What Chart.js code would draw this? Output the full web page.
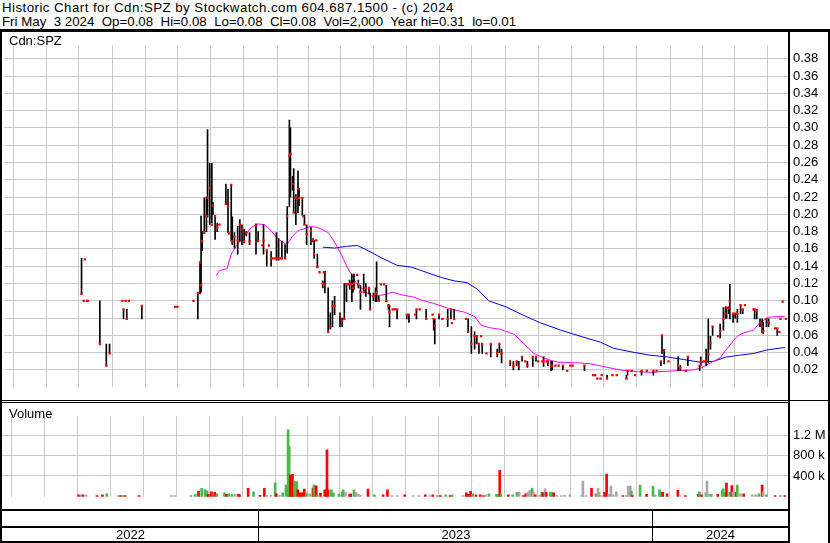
<!DOCTYPE html>
<html>
<head>
<meta charset="utf-8">
<script src="https://cdn.jsdelivr.net/npm/chart.js@4.4.1/dist/chart.umd.min.js"></script>
<style>
body { margin: 0; width: 830px; height: 543px; position: relative; overflow: hidden; background: #fff;
       font-family: "Liberation Sans", Arial, sans-serif; color: #000; }
canvas { position: absolute; left: 0; }
.k { position: absolute; background: #000; }
.lbl { position: absolute; font-size: 13px; line-height: 15px; white-space: pre; }
#hdr { position: absolute; left: 2px; top: 1px; font-size: 13.3px; line-height: 14.3px; white-space: pre; }
#hdr .l1 { letter-spacing: 0.45px; }
</style>
</head>
<body>
<div id="hdr"><span class="l1">Historic Chart for Cdn:SPZ by Stockwatch.com 604.687.1500 - (c) 2024</span>
Fri May  3 2024  Op=0.08  Hi=0.08  Lo=0.08  Cl=0.08  Vol=2,000  Year hi=0.31  lo=0.01</div>
<canvas id="price" width="830" height="367" style="top:33px"></canvas>
<canvas id="vol" width="830" height="107" style="top:403px"></canvas>
<div class="lbl" style="left:9px;top:33px">Cdn:SPZ</div>
<div class="lbl" style="left:9px;top:406px">Volume</div>
<!-- frame -->
<div class="k" style="left:0;top:29px;width:830px;height:3px"></div>
<div class="k" style="left:0;top:29px;width:2px;height:514px"></div>
<div class="k" style="left:828px;top:29px;width:2px;height:514px"></div>
<div class="k" style="left:788px;top:29px;width:2px;height:514px"></div>
<div class="k" style="left:0;top:400px;width:830px;height:1px"></div>
<div class="k" style="left:0;top:402px;width:790px;height:1px"></div>
<div class="k" style="left:0;top:509px;width:790px;height:2px"></div>
<div class="k" style="left:0;top:526px;width:790px;height:2px"></div>
<div class="k" style="left:0;top:541px;width:790px;height:2px"></div>
<div id="axis"></div>
<script>
// days are counted from 2022-01-01 (day 0)
var monthStarts = [151,181,212,243,273,304,334,365,396,424,455,485,516,546,577,608,638,669,699,730,761,790,821,851];
var yearStarts = [365, 730];
var yearLabels = ['2022', '2023', '2024'];
var priceTicks = [0.02,0.04,0.06,0.08,0.10,0.12,0.14,0.16,0.18,0.20,0.22,0.24,0.26,0.28,0.30,0.32,0.34,0.36,0.38];
var volTicks = [400, 800, 1200];   // thousands of shares

var pDay = [
  199,201,202,204,205,216,222,225,237,238, 240,241,243,255,286,288,303,307,309,310,
  311,313,315,316,318,320,321,323,325,327, 333,335,336,338,339,341,344,346,348,350,
  352,355,361,363,367,368,371,373,375,376, 378,380,382,384,385,388,390,392,393,395,
  396,398,400,401,404,405,406,408,412,414, 415,417,418,420,423,424,425,428,430,432,
  434,439,441,443,445,447,448,450,451,452, 455,456,458,461,463,466,467,470,472,473,
  475,477,480,482,484,485,488,490,492,501, 503,509,510,513,519,525,526,527,531,534,
  539,542,543,545,556,558,561,564,566,568, 570,571,575,579,585,587,589,597,600,603,
  605,608,611,613,618,621,623,627,628,631, 632,635,636,639,642,646,650,653,655,666,
  674,676,678,681,682,687,692,696,705,706, 710,713,719,724,730,733,737,738,740,744,
  753,755,760,762,773,774,777,779,781,783, 785,790,792,795,797,798,800,801,804,806,
  808,811,813,815,823,824,826,829,831,832, 835,837,843,845,847,848,850,853
];
var pHigh = [
  .149,.10,.148,.10,.10,.10,.05,.05,.10,.09, .10,.09,.10,.094,.093,.093,.10,.109,.145,.198,
  .18,.219,.22,.298,.259,.259,.214,.198,.19,.188, .235,.229,.178,.234,.197,.179,.186,.194,.188,.183,
  .18,.179,.189,.18,.164,.188,.159,.164,.157,.149, .149,.179,.172,.149,.169,.165,.209,.309,.30,.244,
  .253,.223,.25,.23,.219,.198,.199,.188,.185,.172, .17,.17,.154,.133,.123,.133,.134,.115,.086,.10,
  .105,.086,.08,.12,.12,.119,.124,.131,.124,.131, .13,.124,.118,.131,.12,.115,.109,.109,.115,.145,
  .105,.119,.119,.118,.096,.095,.09,.09,.09,.084, .084,.084,.09,.09,.09,.084,.079,.079,.084,.079,
  .09,.09,.074,.09,.079,.079,.07,.064,.06,.05, .059,.05,.039,.05,.044,.05,.044,.03,.03,.03,
  .03,.035,.03,.03,.035,.035,.03,.03,.035,.03, .03,.03,.03,.025,.025,.025,.019,.025,.025,.025,
  .014,.014,.01,.01,.014,.014,.014,.014,.014,.019, .019,.014,.019,.019,.019,.019,.03,.06,.043,.03,
  .035,.025,.019,.035,.025,.035,.03,.044,.079,.059, .07,.059,.073,.092,.093,.092,.093,.119,.085,.085,
  .09,.095,.09,.095,.09,.09,.09,.079,.079,.075, .079,.079,.068,.068,.064,.079,.099,.079
];
var pLow = [
  .108,.10,.148,.10,.10,.049,.025,.039,.10,.079, .10,.079,.10,.079,.093,.093,.10,.079,.108,.11,
  .158,.178,.18,.197,.188,.19,.2,.171,.18,.188, .212,.179,.178,.169,.165,.161,.154,.169,.165,.167,
  .175,.165,.154,.169,.164,.154,.14,.164,.14,.149, .149,.147,.147,.149,.149,.149,.155,.209,.22,.228,
  .202,.188,.202,.21,.199,.198,.188,.165,.165,.168, .149,.17,.139,.133,.115,.133,.109,.064,.067,.07,
  .084,.07,.07,.079,.099,.119,.113,.099,.11,.113, .13,.115,.09,.11,.105,.108,.09,.10,.099,.099,
  .099,.119,.119,.099,.09,.07,.09,.09,.079,.079, .075,.084,.079,.09,.079,.084,.066,.05,.079,.079,
  .07,.079,.074,.079,.079,.064,.039,.044,.05,.039, .059,.039,.039,.035,.035,.04,.028,.025,.02,.025,
  .02,.03,.03,.023,.024,.03,.03,.03,.024,.03, .025,.019,.02,.025,.025,.02,.019,.025,.025,.019,
  .014,.014,.01,.01,.014,.01,.014,.014,.01,.014, .019,.014,.014,.019,.014,.019,.025,.039,.027,.03,
  .019,.019,.019,.025,.019,.025,.03,.025,.028,.044, .06,.059,.057,.066,.08,.08,.085,.079,.075,.08,
  .075,.085,.085,.095,.09,.079,.079,.07,.063,.062, .07,.07,.068,.06,.064,.079,.099,.079
];
var pClose = [
  .108,.10,.148,.10,.10,.05,.025,.039,.10,.09, .10,.079,.10,.094,.093,.093,.10,.109,.144,.118,
  .169,.179,.198,.219,.23,.188,.21,.198,.185,.188, .212,.209,.178,.234,.169,.174,.17,.188,.183,.169,
  .178,.169,.187,.169,.164,.17,.158,.164,.149,.149, .149,.149,.149,.149,.149,.149,.198,.268,.27,.235,
  .202,.219,.229,.219,.219,.198,.188,.177,.181,.17, .154,.17,.139,.133,.12,.133,.119,.064,.07,.094,
  .094,.083,.077,.079,.119,.119,.12,.119,.115,.12, .13,.119,.11,.11,.115,.115,.09,.105,.108,.11,
  .10,.119,.119,.10,.094,.087,.09,.09,.09,.084, .084,.084,.09,.09,.079,.084,.079,.071,.084,.079,
  .079,.09,.074,.079,.079,.064,.05,.059,.059,.05, .059,.05,.039,.05,.039,.05,.039,.03,.025,.03,
  .025,.035,.03,.025,.035,.035,.03,.03,.03,.03, .03,.024,.025,.025,.025,.025,.019,.025,.025,.025,
  .014,.014,.01,.01,.014,.01,.014,.014,.01,.019, .019,.014,.019,.019,.019,.019,.03,.06,.043,.03,
  .025,.022,.019,.035,.025,.03,.03,.03,.038,.051, .07,.059,.065,.079,.085,.092,.092,.099,.085,.085,
  .085,.095,.09,.095,.09,.09,.088,.075,.07,.065, .079,.075,.068,.068,.064,.079,.099,.079
];

// moving averages (short = magenta, long = blue)
var maShortDay = [324,327,334,338,343,350,357,363,369,375,381,388,391,395,400,405,411,418,428,434,440,446,454,462,469,
  480,488,496,508,514,526,540,554,564,570,577,588,601,610,619,632,641,662,672,687,699,715,730,736,752,767,774,783,792,798,
  808,814,823,829,837,852];
var maShort = [.129,.135,.137,.154,.164,.175,.185,.189,.188,.181,.172,.166,.167,.175,.181,.183,.186,.185,.179,.168,.154,.138,.121,.111,.105,
  .107,.11,.107,.104,.101,.097,.091,.087,.082,.072,.069,.067,.061,.05,.039,.032,.029,.028,.027,.023,.02,.018,.017,.018,.019,.02,.022,.028,.034,.044,
  .059,.063,.066,.075,.081,.082];
var maLongDay = [423,434,445,455,465,477,492,505,519,533,545,557,567,577,593,608,624,644,662,681,693,709,727,743,758,773,786,798,810,823,835,852];
var maLong = [.162,.161,.163,.164,.158,.15,.141,.139,.133,.127,.123,.121,.113,.10,.093,.084,.075,.066,.059,.052,.045,.041,.037,.035,.032,.029,.03,.035,.037,.039,.043,.046];

// volume in thousands, direction u = up, d = down, n = unchanged
var vDay = [
  198,200,202,205,215,220,224,235,237,239, 241,254,284,287,302,306,309,312,315,317,
  318,321,324,326,333,335,337,340,343,346, 347,355,360,366,370,372,376,380,381,384,
  387,390,392,393,394,396,397,398,400,401, 403,405,407,409,412,415,416,418,419,422,
  426,428,429,432,434,439,442,443,445,449, 450,453,455,457,459,466,472,480,484,488,
  493,500,508,513,519,523,526,530,533,538, 542,544,554,557,559,561,563,566,570,573,
  575,578,585,586,588,589,596,600,604,606, 610,612,614,616,618,619,621,625,627,628,
  630,631,635,636,638,641,645,648,653,664, 665,668,673,677,679,680,682,685,687,689,
  691,693,696,702,705,707,709,710,711,718, 724,730,732,736,737,739,743,753,755,760,
  772,773,775,779,780,782,784,790,794,795, 797,798,801,803,804,807,808,811,814,822,
  825,828,831,832,835,843,848,852
];
var vVol = [
  30,30,30,20,15,30,50,15,15,15, 15,15,15,15,15,40,100,160,130,110,
  40,90,80,50,70,40,50,40,40,40, 30,160,90,20,160,20,20,265,50,20,
  70,220,1300,975,415,430,90,300,290,130, 70,70,145,70,50,165,220,205,15,60,
  130,910,130,130,70,40,90,130,80,40, 50,130,80,40,20,145,30,30,130,15,
  15,30,15,15,30,15,30,15,15,30, 15,30,15,70,40,100,50,30,30,15,
  30,50,40,40,510,50,30,30,80,80, 15,50,80,120,160,90,30,20,80,70,
  150,80,80,80,70,15,15,20,30,15, 300,15,160,50,160,80,15,80,435,40,
  200,30,90,15,15,200,200,100,15,220, 40,200,30,130,90,80,50,120,15,15,
  40,90,30,70,300,40,35,40,120,150, 80,260,80,210,90,80,220,50,50,30,
  30,50,220,90,30,15,15,15
];
var vDir = ('dndndduudu' + 'ddnnuuduuu' + 'ddduuduund' + 'dduddnnudn' + 'uuuuddduud' +
            'dddundudud' + 'ddduuuuund' + 'dunnnduddn' + 'ndnndndudu' + 'dunddduddd' +
            'nuuududuun' + 'ddnnundnud' + 'nduudnnnnn' + 'nndunnnddn' + 'nnndnnnudu' +
            'dunuudddnd' + 'dudunnuduu' + 'ududndundn' + 'nudnudud').split('');

var gridColor = '#c8c8c8';
var dirColor = { u: '#4cb848', d: '#ff0000', n: '#a8a8a8' };
var axisFont = { family: '"Liberation Sans", Arial, sans-serif', size: 13 };

function timeAxis() {
  return {
    type: 'linear', min: 127, max: 855, offset: false,
    grid: { color: gridColor, drawTicks: false },
    border: { display: false },
    ticks: { display: false },
    afterBuildTicks: function(s) { s.ticks = monthStarts.map(function(v) { return { value: v }; }); },
    afterFit: function(s) { s.height = 0; }
  };
}

function valueAxis(min, max, ticks, fmt) {
  return {
    position: 'right', min: min, max: max,
    grid: { color: gridColor, drawTicks: false },
    border: { display: false },
    ticks: { color: '#000', font: axisFont, padding: 5, autoSkip: false, callback: fmt },
    afterBuildTicks: function(s) { s.ticks = ticks.map(function(v) { return { value: v }; }); },
    afterFit: function(s) { s.width = 42; }
  };
}

var common = {
  responsive: false, animation: false, devicePixelRatio: 1,
  layout: { padding: { left: 2, right: 0, top: 0, bottom: 0 } },
  plugins: { legend: { display: false }, tooltip: { enabled: false } }
};

var priceChart = new Chart(document.getElementById('price'), {
  type: 'bar',
  data: {
    datasets: [
      {
        type: 'line', order: 0, showLine: false,
        data: pDay.map(function(d, i) { return { x: d, y: pClose[i] }; }),
        pointStyle: 'rect', pointRadius: 1.6, pointBackgroundColor: '#ff0000', pointBorderWidth: 0, borderWidth: 0
      },
      {
        type: 'bar', order: 1,
        data: pDay.map(function(d, i) { return { x: d, y: [pLow[i], pHigh[i]] }; }),
        backgroundColor: '#000', barThickness: 1
      },
      {
        type: 'line', order: 2,
        data: maShortDay.map(function(d, i) { return { x: d, y: maShort[i] }; }),
        borderColor: '#ff00ff', borderWidth: 1, pointRadius: 0, tension: 0
      },
      {
        type: 'line', order: 2,
        data: maLongDay.map(function(d, i) { return { x: d, y: maLong[i] }; }),
        borderColor: '#0000ff', borderWidth: 1, pointRadius: 0, tension: 0
      }
    ]
  },
  options: Object.assign({}, common, {
    scales: {
      x: timeAxis(),
      y: valueAxis(0, 0.395, priceTicks, function(v) { return v.toFixed(2); })
    }
  })
});

var volChart = new Chart(document.getElementById('vol'), {
  type: 'bar',
  data: {
    datasets: [{
      data: vDay.map(function(d, i) { return { x: d, y: vVol[i] }; }),
      backgroundColor: vDir.map(function(c) { return dirColor[c]; }),
      barThickness: 2
    }]
  },
  options: Object.assign({}, common, {
    scales: {
      x: timeAxis(),
      y: valueAxis(-15, 1576, volTicks, function(v) { return v >= 1000 ? (v / 1000) + ' M' : v + ' k'; })
    }
  })
});

// time axis rows below the volume panel, placed from the volume chart's x scale
var xs = volChart.scales.x;
var axisBox = document.getElementById('axis');
var bounds = [xs.left].concat(yearStarts.map(function(d) { return xs.getPixelForValue(d); }), [xs.right]);
yearStarts.forEach(function(d) {
  var sep = document.createElement('div');
  sep.className = 'k';
  sep.style.cssText = 'left:' + (Math.round(xs.getPixelForValue(d)) - 1) + 'px;top:511px;width:1px;height:30px';
  axisBox.appendChild(sep);
});
yearLabels.forEach(function(t, i) {
  var el = document.createElement('div');
  el.className = 'lbl';
  el.textContent = t;
  el.style.cssText = 'left:' + bounds[i] + 'px;width:' + (bounds[i + 1] - bounds[i]) + 'px;top:527px;text-align:center';
  axisBox.appendChild(el);
});
</script>
</body>
</html>
